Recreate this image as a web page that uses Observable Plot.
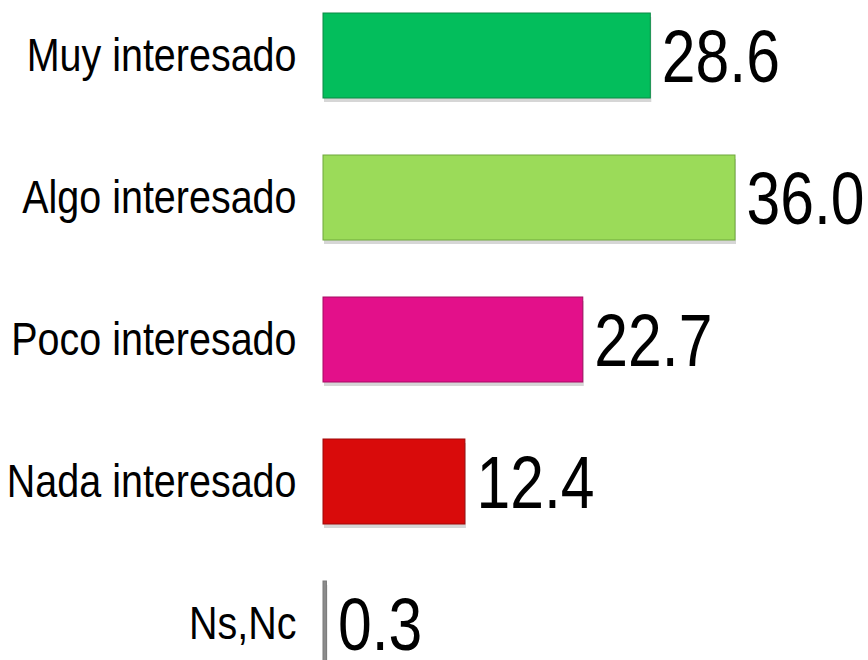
<!DOCTYPE html>
<html>
<head>
<meta charset="utf-8">
<script src="https://cdn.jsdelivr.net/npm/d3@7"></script>
<script src="https://cdn.jsdelivr.net/npm/@observablehq/plot@0.6"></script>
<style>
  html, body { margin: 0; padding: 0; background: #fff; }
  #chart svg { display: block; }
</style>
</head>
<body>
<div id="chart"></div>
<script>
const categories = ["Muy interesado", "Algo interesado", "Poco interesado", "Nada interesado", "Ns,Nc"];
const values = [28.6, 36.0, 22.7, 12.4, 0.3];
const valueLabels = ["28.6", "36.0", "22.7", "12.4", "0.3"];
const fills = ["#03BE5C", "#9BDB59", "#E3108A", "#D90B0B", "#8C8C8C"];
const strokes = ["#0A8A45", "#6FA83C", "#A50B62", "#9E0808", "#7A7A7A"];

const data = categories.map((c, i) => ({cat: c, value: values[i], label: valueLabels[i], fill: fills[i], stroke: strokes[i]}));

const font = "'Liberation Sans Narrow', 'Arial Narrow', 'Liberation Sans', Arial, sans-serif";

const chart = Plot.plot({
  width: 868,
  height: 660,
  marginLeft: 323,
  marginRight: 133,
  marginTop: 0,
  marginBottom: 0,
  style: {fontFamily: font, background: "#fff", overflow: "visible"},
  x: {domain: [0, 36], axis: null},
  y: {domain: categories, range: [-15.4, 694.6], paddingInner: 0.4, paddingOuter: 0.2, label: null},
  marks: [
    // soft shadow
    Plot.barX(data, {y: "cat", x: "value", fill: "#000", fillOpacity: 0.16, dx: 1, dy: 4}),
    Plot.barX(data, {y: "cat", x: "value", fill: "fill", stroke: "stroke", strokeWidth: 1}),
    Plot.text(data, {y: "cat", x: "value", text: "label", textAnchor: "start", dx: 11, dy: 2, fontSize: 74, fill: "#000"}),
    Plot.axisY({tickSize: 0, tickPadding: 27, fontSize: 47, fill: "#000"})
  ]
});

// horizontally condense texts around their anchor point (emulates Arial Narrow)
function condense(sel, s) {
  sel.each(function () {
    const t = this;
    const tr = t.getAttribute("transform");
    if (tr) {
      t.setAttribute("transform", tr + ` scale(${s},1)`);
    } else {
      const x = +(t.getAttribute("x") || 0), y = +(t.getAttribute("y") || 0);
      t.setAttribute("transform", `translate(${x},${y}) scale(${s},1) translate(${-x},${-y})`);
    }
  });
}
const svg = d3.select(chart);
condense(svg.selectAll("g[aria-label='text'] text"), 0.82);
condense(svg.selectAll("g[aria-label='y-axis tick label'] text"), 0.84);

document.getElementById("chart").appendChild(chart);
</script>
</body>
</html>
